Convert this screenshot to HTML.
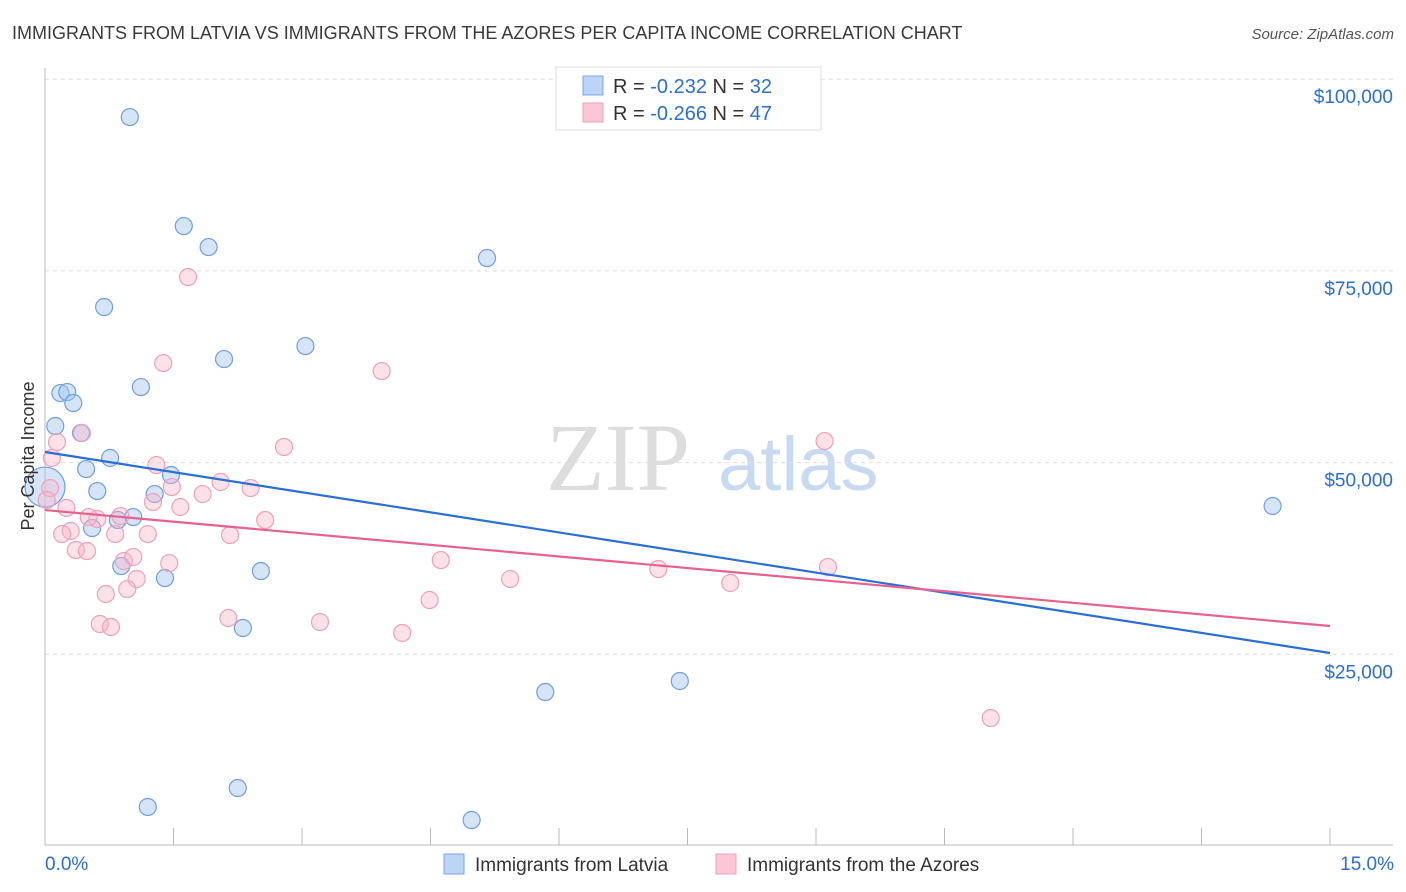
<!DOCTYPE html>
<html><head><meta charset="utf-8"><style>
body{margin:0;background:#fff;font-family:"Liberation Sans",sans-serif}
</style></head><body>
<svg id="chart" width="1406" height="892" xmlns="http://www.w3.org/2000/svg" style="display:block">
<text x="12" y="39" font-size="18" fill="#3a3a3a">IMMIGRANTS FROM LATVIA VS IMMIGRANTS FROM THE AZORES PER CAPITA INCOME CORRELATION CHART</text>
<text x="1394" y="39" font-size="15" fill="#555" text-anchor="end" font-style="italic">Source: ZipAtlas.com</text>
<g><text x="690" y="490" font-size="96" font-family="Liberation Serif" fill="#ddd" text-anchor="end">ZIP</text><text x="718" y="490" font-size="76" fill="#c8daf2">atlas</text></g>
<g id="grid"></g><g id="axes"></g><g id="pts"></g><g id="trends"></g>
<text transform="translate(34,456) rotate(-90)" font-size="18" fill="#333" text-anchor="middle">Per Capita Income</text>
<g>
<rect x="556" y="67" width="265" height="63" fill="#fff" stroke="#ddd"/>
<rect x="583" y="76" width="20" height="19" fill="#bcd4f6" stroke="#7aa6e4"/>
<rect x="583" y="103" width="20" height="19" fill="#fbc6d6" stroke="#f0a0b8"/>
<text x="613" y="93" font-size="20" fill="#333">R = <tspan fill="#2a6fd6">-0.232</tspan>   N = <tspan fill="#2a6fd6">32</tspan></text>
<text x="613" y="120" font-size="20" fill="#333">R = <tspan fill="#2a6fd6">-0.266</tspan>   N = <tspan fill="#2a6fd6">47</tspan></text>
</g>
<g>
<rect x="444" y="854" width="20" height="20" fill="#bcd4f6" stroke="#7aa6e4"/>
<text x="475" y="871" font-size="19" fill="#333">Immigrants from Latvia</text>
<rect x="716" y="854" width="20" height="20" fill="#fbc6d6" stroke="#f0a0b8"/>
<text x="747" y="871" font-size="19" fill="#333">Immigrants from the Azores</text>
</g>
</svg>
<script>
const yTicks=[25000,50000,75000,100000];
const yTickLabels=["$25,000","$50,000","$75,000","$100,000"];
const xTickLabels=["0.0%","15.0%"];
const latviaX=[0.99,1.62,1.91,5.16,0.69,3.04,2.09,1.12,0.18,0.26,0.33,0.12,0.42,0.76,0.48,1.47,0.61,1.28,1.03,0.85,0.55,0.89,1.40,2.52,2.31,5.84,7.41,1.20,2.25,4.98,14.33,0];
const latviaY=[95060,80850,78110,76680,70290,65200,63500,59850,59070,59200,57770,54770,53860,50600,49160,48380,46290,45900,42900,42510,41470,36510,34950,35860,28430,20080,21520,5090,7560,3390,44340,46810];
const azoresX=[1.67,1.38,3.93,2.79,9.10,0.14,0.43,1.30,1.48,2.05,2.40,1.84,1.26,1.58,0.25,0.61,0.88,2.57,0.51,0.30,0.20,0.82,1.20,2.16,0.36,0.49,0.92,1.03,1.45,4.62,1.07,5.43,7.16,9.14,8.00,0.96,0.71,4.49,2.14,3.21,0.64,0.77,4.17,11.04,0.06,0.02,0.08];
const azoresY=[74200,62980,61940,52030,52810,52680,53860,49680,46810,47470,46680,45900,44860,44210,44080,42640,43030,42510,42900,41080,40680,40680,40680,40550,38600,38470,37160,37690,36900,37290,34820,34820,36120,36380,34300,33510,32860,32080,29730,29210,28950,28560,27780,16690,46680,45120,50600];
const latviaTrend=[51380,25170];
const azoresTrend=[43810,28690];
const X=v=>45+v/15*1285, Y=v=>846-v/25000*191.7;
const NS="http://www.w3.org/2000/svg";
function mk(p,t,a){const e=document.createElementNS(NS,t);for(const k in a)e.setAttribute(k,a[k]);document.getElementById(p).appendChild(e);return e;}
yTicks.forEach((t,i)=>{
 const g=mk('grid','line',{x1:45,x2:1393,y1:Y(t),y2:Y(t),stroke:'#ddd','stroke-dasharray':'4,4'});
 
 
 const l=mk('grid','text',{x:1393,y:Y(t)+24,'font-size':19,fill:'#2a6fd6','text-anchor':'end'});
 l.textContent=yTickLabels[i];
 
 
});
mk('axes','line',{x1:45,x2:45,y1:68,y2:845,stroke:'#bbb'});
mk('axes','line',{x1:45,x2:1393,y1:845,y2:845,stroke:'#bbb'});
for(let i=0;i<=10;i++){const t=mk('axes','line',{x1:X(i*1.5),x2:X(i*1.5),y1:828,y2:845,stroke:'#bbb'});
 
 }
const xl0=mk('axes','text',{x:45,y:870,'font-size':19,fill:'#2a6fd6'});xl0.textContent=xTickLabels[0];


const xl1=mk('axes','text',{x:1394,y:870,'font-size':19,fill:'#2a6fd6','text-anchor':'end'});xl1.textContent=xTickLabels[1];


latviaX.forEach((x,i)=>{const c=mk('pts','circle',{cx:X(x),cy:Y(latviaY[i]),r:i==latviaX.length-1?20:8.5,fill:'rgba(164,196,240,0.45)',stroke:'#6f9fe0','stroke-width':1.2});
 
 });
azoresX.forEach((x,i)=>{const c=mk('pts','circle',{cx:X(x),cy:Y(azoresY[i]),r:8.5,fill:'rgba(248,180,200,0.4)',stroke:'#f0a0b8','stroke-width':1.2});
 
 });
const t1=mk('trends','line',{x1:X(0),y1:Y(latviaTrend[0]),x2:X(15),y2:Y(latviaTrend[1]),stroke:'#2a6fd6','stroke-width':2.2});


const t2=mk('trends','line',{x1:X(0),y1:Y(azoresTrend[0]),x2:X(15),y2:Y(azoresTrend[1]),stroke:'#e8608f','stroke-width':2.2});


</script>
</body></html>
